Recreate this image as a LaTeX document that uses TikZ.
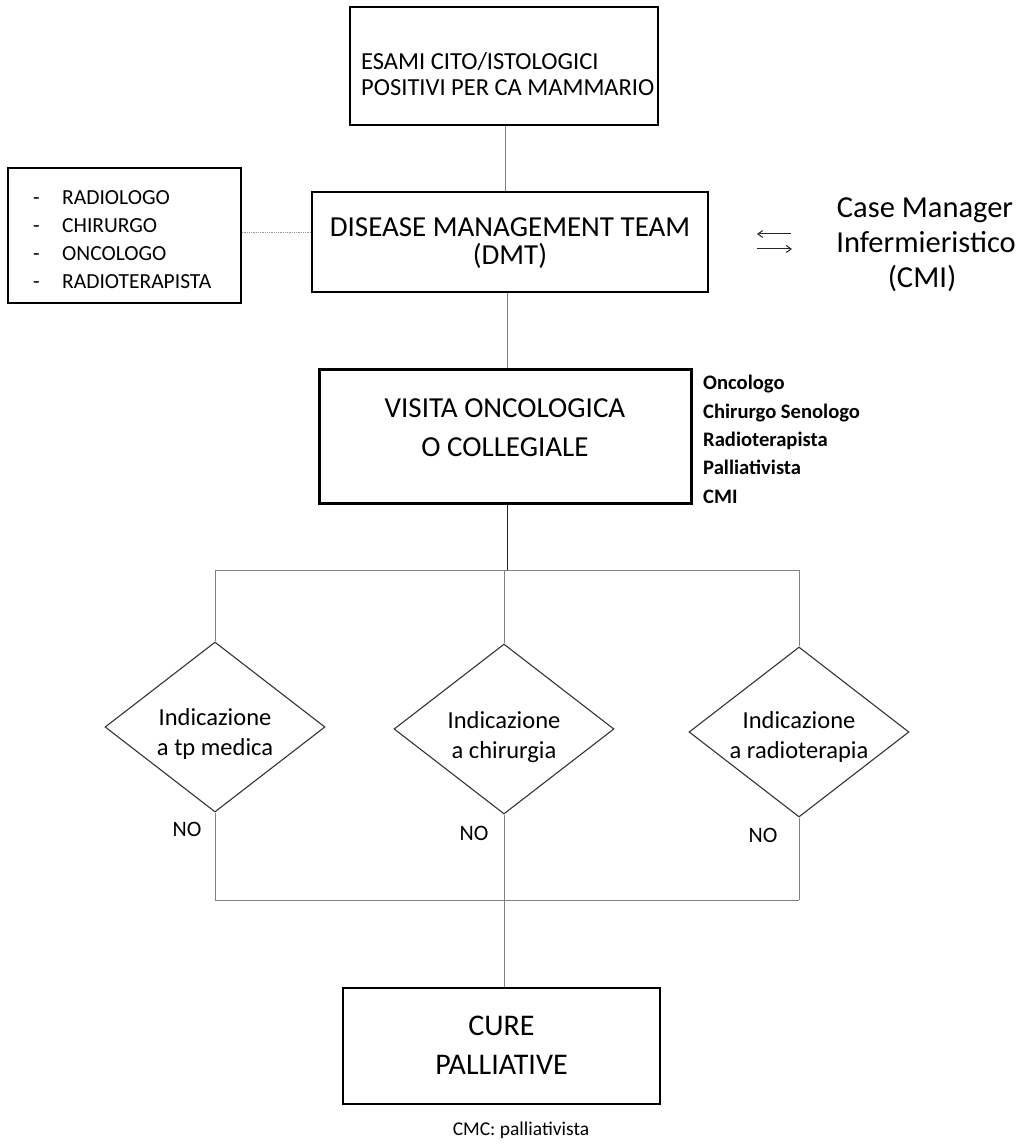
\documentclass[tikz,border=0pt]{standalone}
\usepackage{fontspec}
\setmainfont{Carlito}
\usetikzlibrary{shapes.geometric,arrows.meta}
\begin{document}
\begin{tikzpicture}[x=1pt,y=-1pt,
  box/.style={draw=black,line width=1.4pt,rectangle,inner sep=0pt},
  dia/.style={draw=black!80,line width=1.1pt,diamond,inner sep=0pt,minimum width=220pt,minimum height=170pt},
  conn/.style={draw=black!50,line width=0.8pt},
  txt/.style={inner sep=0pt,anchor=base},
  ltxt/.style={inner sep=0pt,anchor=base west},
  fA/.style={font=\fontsize{24.5}{29}\selectfont},
  fB/.style={font=\fontsize{29}{34}\selectfont},
  fC/.style={font=\fontsize{21.5}{25}\selectfont},
  fD/.style={font=\fontsize{30.5}{35}\selectfont},
  fE/.style={font=\fontsize{20.6}{24}\selectfont\bfseries},
  fF/.style={font=\fontsize{24.5}{30}\selectfont},
  fG/.style={font=\fontsize{22}{26}\selectfont},
  fH/.style={font=\fontsize{30}{36}\selectfont},
  fI/.style={font=\fontsize{19.5}{23}\selectfont}]
\useasboundingbox (0,0) rectangle (1017,1147);
% top box
\node[box,minimum width=308pt,minimum height=118pt] (top) at (504,66) {};
\node[ltxt,fA] (t1) at (361,70) {ESAMI CITO/ISTOLOGICI};
\node[ltxt,fA] (t2) at (361,95.5) {POSITIVI PER CA MAMMARIO};
% DMT
\node[box,minimum width=396pt,minimum height=100pt] (dmt) at (510,242) {};
\node[txt,fB] (dmt1) at (510,237) {DISEASE MANAGEMENT TEAM};
\node[txt,fB] (dmt2) at (510,265) {(DMT)};
% team box
\node[box,minimum width=233pt,minimum height=135pt] (team) at (124.5,235.5) {};
\foreach \t/\yy [count=\i] in {RADIOLOGO/204.5,CHIRURGO/232.5,ONCOLOGO/260.5,RADIOTERAPISTA/288.5}{
  \node[ltxt,fC] (dash\i) at (33,\yy) {-};
  \node[ltxt,fC] (mem\i) at (62,\yy) {\t};
}
% case manager
\node[txt,fD] (cm1) at (925,217.6) {Case Manager};
\node[txt,fD] (cm2) at (926,252.6) {Infermieristico};
\node[txt,fD] (cm3) at (922,287.6) {(CMI)};
\coordinate (al) at (757,234);
\coordinate (ar) at (791,234);
\coordinate (bl) at (757,249);
\coordinate (br) at (792,249);
\draw[black!85,line width=1pt,-{Straight Barb[length=5pt,width=7pt]}] (ar) -- (al);
\draw[black!85,line width=1pt,-{Straight Barb[length=5pt,width=7pt]}] (bl) -- (br);
% visita
\node[box,line width=3pt,minimum width=372pt,minimum height=134pt] (visita) at (505,436) {};
\node[txt,fB] (v1) at (505,417) {VISITA ONCOLOGICA};
\node[txt,fB] (v2) at (505,456) {O COLLEGIALE};
\foreach \t/\yy [count=\i] in {Oncologo/389.5,Chirurgo Senologo/418.5,Radioterapista/446.5,Palliativista/474.5,CMI/503.5}{
  \node[ltxt,fE] (spec\i) at (703,\yy) {\t};
}
% diamonds
\node[dia] (d1) at (215,727) {};
\node[dia] (d2) at (504,729) {};
\node[dia] (d3) at (799,732) {};
\node[txt,fF] (d1a) at (215,725) {Indicazione};
\node[txt,fF] (d1b) at (215,755) {a tp medica};
\node[txt,fF] (d2a) at (504,728) {Indicazione};
\node[txt,fF] (d2b) at (504,758) {a chirurgia};
\node[txt,fF] (d3a) at (799,728) {Indicazione};
\node[txt,fF] (d3b) at (799,758) {a radioterapia};
\node[txt,fG] (no1) at (187,836) {NO};
\node[txt,fG] (no2) at (474,840) {NO};
\node[txt,fG] (no3) at (763,842) {NO};
% cure
\node[box,minimum width=317pt,minimum height=116pt] (cure) at (501.5,1046) {};
\node[txt,fH] (c1) at (501.5,1035.5) {CURE};
\node[txt,fH] (c2) at (501.5,1074.5) {PALLIATIVE};
\node[txt,fI] (cmc) at (521,1135) {CMC: palliativista};
% connectors
\coordinate (sp) at (507,570);
\coordinate (sl) at (215,570);
\coordinate (sr) at (799,570);
\coordinate (ml) at (215,900);
\coordinate (mm) at (504,900);
\coordinate (mr) at (799,900);
\draw[conn] (top.south -| 505,0) -- (dmt.north -| 505,0);
\draw[conn,densely dotted,black!40] (team.east |- 0,232) -- (dmt.west |- 0,232);
\draw[conn] (dmt.south -| 507,0) -- (visita.north -| 507,0);
\draw[black!85,line width=1pt] (visita.south -| sp) -- (sp);
\draw[conn] (sl) -- (sr);
\draw[conn] (sl) -- (d1.north);
\draw[conn] (sp -| d2.north) -- (d2.north);
\draw[conn] (sr) -- (d3.north);
\draw[conn] (d1.south) -- (ml);
\draw[conn] (d2.south) -- (mm);
\draw[conn] (d3.south) -- (mr);
\draw[conn] (ml) -- (mr);
\draw[conn] (mm) -- (cure.north -| mm);
\end{tikzpicture}
\end{document}
